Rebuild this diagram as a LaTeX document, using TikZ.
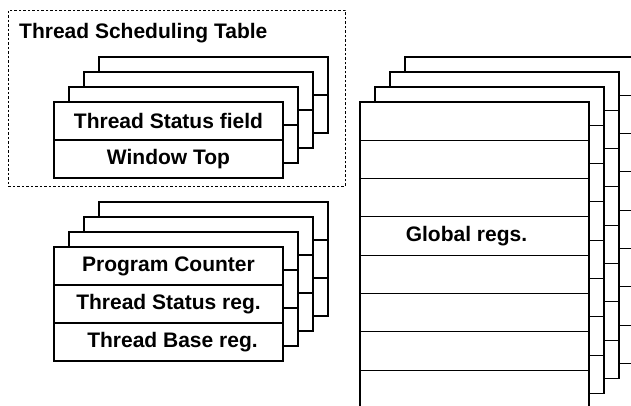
\documentclass[tikz,border=0pt]{standalone}
\usepackage{fontspec}
\setmainfont{Liberation Sans}
\usetikzlibrary{positioning}
\tikzset{
cell/.style={
draw,
fill=white,
line width=1.1pt,
minimum width=229pt,
minimum height=38pt,
inner sep=0pt,
outer sep=0pt
},
lbl/.style={
inner sep=0pt,
font=\fontsize{21}{24}\selectfont\bfseries
},
dashbox/.style={
draw,
line width=0.9pt,
dash pattern=on 2.5pt off 2pt,
minimum width=337pt,
minimum height=176pt,
inner sep=0pt,
anchor=north west
}
}

\begin{document}
\begin{tikzpicture}[x=1pt,y=-1pt]
\clip (0,0) rectangle (631,405);
\fill[white] (0,0) rectangle (631,405);

% thread scheduling table
\node[dashbox](tst) at (8,10) {};
\node[lbl,anchor=base west](title) at (19,38) {Thread Scheduling Table};
\foreach \k in {3,2,1,0}{
\node[cell,anchor=north west](ts\k-0) at (54+15*\k,102-15*\k) {};
\node[cell,below=0pt of ts\k-0](ts\k-1) {};
}
\node[lbl] at (ts0-0) {Thread Status field};
\node[lbl] at (ts0-1) {Window Top};

% per-thread registers
\foreach \k in {3,2,1,0}{
\node[cell,anchor=north west](tr\k-0) at (54+15*\k,247-15*\k) {};
\node[cell,below=0pt of tr\k-0](tr\k-1) {};
\node[cell,below=0pt of tr\k-1](tr\k-2) {};
}
\node[lbl] at (tr0-0) {Program Counter};
\node[lbl] at (tr0-1) {Thread Status reg.};
\node[lbl] at ([xshift=4pt]tr0-2.center) {Thread Base reg.};

% global registers
\foreach \k in {3,2,1,0}{
\node[cell,minimum height=38.3pt,anchor=north west](gr\k-0) at (360+15*\k,102-15*\k) {};
\foreach \r in {1,...,7}{
\pgfmathtruncatemacro{\p}{\r-1}
\node[cell,minimum height=38.3pt,below=0pt of gr\k-\p](gr\k-\r) {};
}
}
\node[lbl] at ([xshift=-8pt]gr0-3.center) {Global regs.};
\end{tikzpicture}
\end{document}
